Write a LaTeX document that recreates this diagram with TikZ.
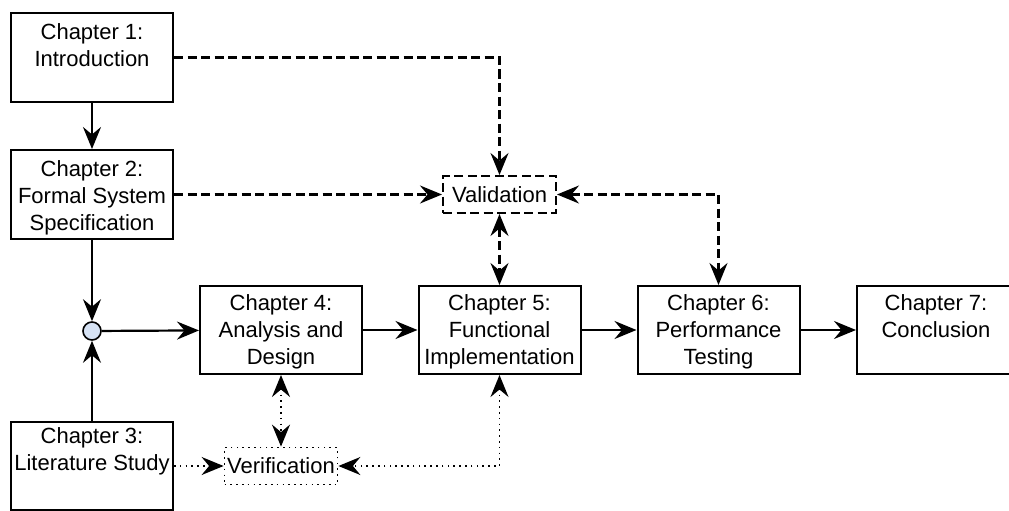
\documentclass[tikz,border=0pt]{standalone}
\usepackage{fontspec}
\setmainfont{Liberation Sans}
\usetikzlibrary{arrows.meta}

\begin{document}
\begin{tikzpicture}[x=1pt,y=-1pt,
  >={Stealth[length=22pt,width=18pt,inset=7.5pt]},
  chapbox/.style={draw, line width=2pt, rectangle, inner sep=0pt,
    minimum width=162pt, minimum height=88pt},
  chaptext/.style={anchor=north, inner sep=0pt, align=center,
    font=\fontsize{22}{27}\selectfont},
  checkbox/.style={draw, line width=2pt, rectangle, inner sep=0pt,
    minimum width=113pt, minimum height=37pt, font=\fontsize{22}{27}\selectfont},
  solidconn/.style={draw, line width=2.2pt},
  dashedconn/.style={draw, line width=2.2pt, dash pattern=on 9pt off 4.5pt},
  dottedconn/.style={draw, line width=1.8pt, dash pattern=on 1.6pt off 4.2pt}
]
\useasboundingbox (0,0) rectangle (1009,511);

% chapter boxes
\node[chapbox, minimum height=89pt] (c1) at (92,57.5) {};
\node[chapbox, minimum height=89pt] (c2) at (92,194.5) {};
\node[chapbox] (c3) at (92,466) {};
\node[chapbox] (c4) at (281,330) {};
\node[chapbox] (c5) at (499.5,330) {};
\node[chapbox] (c6) at (718.5,330) {};
\node[chapbox, minimum width=158pt] (c7) at (936,330) {};

% chapter titles
\node[chaptext] (t1) at ([yshift=-11.3pt]c1.north) {Chapter 1:\\Introduction};
\node[chaptext] (t2) at ([yshift=-11.3pt]c2.north) {Chapter 2:\\Formal System\\Specification};
\node[chaptext] (t3) at ([yshift=-6.5pt]c3.north) {Chapter 3:\\Literature Study};
\node[chaptext] (t4) at ([yshift=-9.3pt]c4.north) {Chapter 4:\\Analysis and\\Design};
\node[chaptext] (t5) at ([yshift=-9.3pt]c5.north) {Chapter 5:\\Functional\\Implementation};
\node[chaptext] (t6) at ([yshift=-9.3pt]c6.north) {Chapter 6:\\Performance\\Testing};
\node[chaptext] (t7) at ([yshift=-9.3pt]c7.north) {Chapter 7:\\Conclusion};

% junction
\node[circle, draw, line width=1.6pt, inner sep=0pt, minimum size=18pt,
  fill={rgb,255:red,214;green,226;blue,244}] (hub) at (92,331) {};

% check boxes
\node[checkbox, dash pattern=on 9pt off 4.5pt] (val) at (499.5,194.5) {Validation};
\node[checkbox, line width=1.8pt, dash pattern=on 1.6pt off 4.2pt] (ver) at (281,466) {Verification};

% main flow
\draw[solidconn,->] (c1) -- (c2);
\draw[solidconn,->] (c2) -- (hub);
\draw[solidconn,->] (c3) -- (hub);
\draw[solidconn,->] (hub) -- (c4);
\draw[solidconn,->] (c4) -- (c5);
\draw[solidconn,->] (c5) -- (c6);
\draw[solidconn,->] (c6) -- (c7);

% validation links
\draw[dashedconn,->] (c1.east) -| (val.north);
\draw[dashedconn,->] (c2.east) -- (val.west);
\draw[dashedconn,<->] (val.east) -| (c6.north);
\draw[dashedconn,<->] (val.south) -- (c5.north);

% verification links
\draw[dottedconn,->] (c3.east) -- (ver.west);
\draw[dottedconn,<->] (c4.south) -- (ver.north);
\draw[dottedconn,<->] (c5.south) |- (ver.east);
\end{tikzpicture}
\end{document}
